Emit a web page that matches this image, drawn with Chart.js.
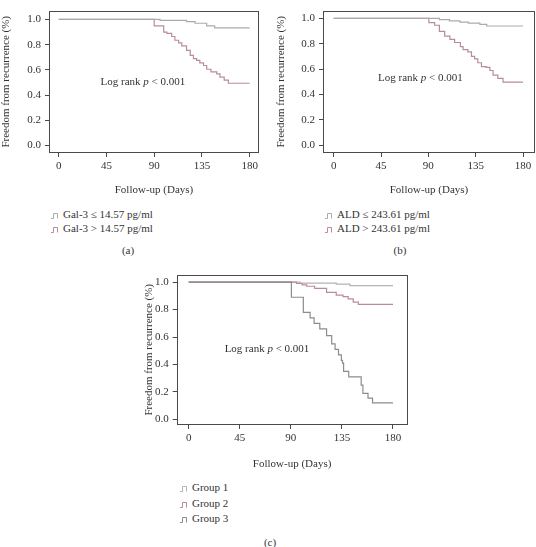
<!DOCTYPE html>
<html>
<head>
<meta charset="utf-8">
<script src="https://cdn.jsdelivr.net/npm/chart.js@4.4.1/dist/chart.umd.min.js"></script>
<style>
  body { margin: 0; background: #fff; width: 536px; height: 547px; position: relative; overflow: hidden;
         font-family: "Liberation Serif", "DejaVu Serif", serif; color: #333; }
  canvas { position: absolute; }
  .legend { position: absolute; font-size: 11px; white-space: nowrap; }
  .legend div { height: 14px; line-height: 14px; }
  .legend svg { vertical-align: -1px; margin-right: 5px; }
  .cap { position: absolute; font-size: 11px; transform: translate(-50%, -50%); }
</style>
</head>
<body>
<canvas id="chartA" width="268" height="200" style="left:0;top:0"></canvas>
<canvas id="chartB" width="261" height="200" style="left:275px;top:0"></canvas>
<canvas id="chartC" width="268" height="208" style="left:143px;top:264px"></canvas>

<div class="legend" id="legA" style="left:51px;top:207px"></div>
<div class="legend" id="legB" style="left:325px;top:207px"></div>
<div class="legend" id="legC" style="left:180px;top:480px"></div>
<div class="cap" style="left:128px;top:250px">(a)</div>
<div class="cap" style="left:400px;top:250px">(b)</div>
<div class="cap" style="left:270px;top:542px">(c)</div>

<script>
"use strict";

// axis ticks
var dayTicks = [0, 45, 90, 135, 180];
var survTicks = [0, 0.2, 0.4, 0.6, 0.8, 1.0];

// (a) Gal-3
var galLowDays = [0, 95.5, 120.5, 128.5, 139.5, 147, 180];
var galLowSurv = [1, 0.993, 0.983, 0.97, 0.95, 0.933, 0.933];
var galHighDays = [0, 90, 99, 102, 106.5, 109.5, 113, 116, 120.5, 124, 127, 130, 133, 136.5, 139.5, 143.5, 149, 152, 156, 160, 180];
var galHighSurv = [1, 0.95, 0.90, 0.89, 0.865, 0.835, 0.815, 0.79, 0.755, 0.715, 0.69, 0.675, 0.655, 0.635, 0.605, 0.585, 0.568, 0.543, 0.519, 0.494, 0.494];

// (b) ALD
var aldLowDays = [0, 100.5, 110, 120, 128, 139, 145.5, 180];
var aldLowSurv = [1, 0.99, 0.98, 0.97, 0.962, 0.952, 0.94, 0.94];
var aldHighDays = [0, 90.5, 96, 100.5, 105.5, 110.5, 115, 120.5, 123, 127.5, 131, 134, 137, 140.5, 145, 148.5, 151.5, 156, 161, 180];
var aldHighSurv = [1, 0.966, 0.946, 0.897, 0.86, 0.835, 0.81, 0.778, 0.754, 0.736, 0.70, 0.68, 0.65, 0.62, 0.613, 0.589, 0.552, 0.527, 0.498, 0.498];

// (c) groups
var group1Days = [0, 98, 130, 142, 180];
var group1Surv = [1, 0.993, 0.985, 0.975, 0.975];
var group2Days = [0, 95, 100, 104, 111, 121.5, 130, 136, 140.5, 145, 149.5, 180];
var group2Surv = [1, 0.99, 0.98, 0.97, 0.955, 0.925, 0.905, 0.895, 0.878, 0.855, 0.838, 0.838];
var group3Days = [0, 90.5, 101, 107, 110.5, 115.5, 121.5, 126, 129, 132, 134.5, 135.5, 136.5, 141, 152, 153.5, 158, 162, 180];
var group3Surv = [1, 0.89, 0.78, 0.74, 0.70, 0.66, 0.61, 0.55, 0.51, 0.47, 0.43, 0.41, 0.35, 0.31, 0.25, 0.19, 0.155, 0.12, 0.12];

var labelsA = ['Gal-3 \u2264 14.57 pg/ml', 'Gal-3 > 14.57 pg/ml'];
var labelsB = ['ALD \u2264 243.61 pg/ml', 'ALD > 243.61 pg/ml'];
var labelsC = ['Group 1', 'Group 2', 'Group 3'];

var frameColor = '#4a4a4a';
var textColor = '#333';
var lightGray = '#ababab';
var mauve = '#b98c9c';
var darkGray = '#8c8c8c';
var fontFamily = '"Liberation Serif", "DejaVu Serif", serif';

var toPoints = function (days, surv) {
    return days.map(function (d, i) { return { x: d, y: surv[i] }; });
};

var frame = {
    id: 'frame',
    afterDatasetsDraw: function (chart) {
        var a = chart.chartArea, ctx = chart.ctx;
        ctx.save();
        ctx.strokeStyle = frameColor;
        ctx.lineWidth = 1;
        ctx.strokeRect(Math.round(a.left) + 0.5, Math.round(a.top) + 0.5,
            Math.round(a.right - a.left) - 1, Math.round(a.bottom - a.top) - 1);
        ctx.restore();
    }
};

var logRank = {
    id: 'logRank',
    afterDatasetsDraw: function (chart, args, opts) {
        var ctx = chart.ctx;
        var cx = chart.scales.x.getPixelForValue(opts.day);
        var cy = chart.scales.y.getPixelForValue(opts.surv);
        var parts = [['Log rank ', ''], ['p', 'italic '], [' < 0.001', '']];
        ctx.save();
        ctx.fillStyle = textColor;
        ctx.textBaseline = 'middle';
        var total = 0;
        parts.forEach(function (p) { ctx.font = p[1] + '11px ' + fontFamily; total += ctx.measureText(p[0]).width; });
        var x = cx - total / 2;
        parts.forEach(function (p) {
            ctx.font = p[1] + '11px ' + fontFamily;
            ctx.fillText(p[0], x, cy);
            x += ctx.measureText(p[0]).width;
        });
        ctx.restore();
    }
};

var kmChart = function (id, datasets, g) {
    var font = { family: fontFamily, size: 11 };
    return new Chart(document.getElementById(id), {
        type: 'line',
        data: { datasets: datasets },
        options: {
            responsive: false,
            devicePixelRatio: 1,
            animation: false,
            layout: { padding: g.padding },
            elements: { point: { radius: 0 }, line: { borderWidth: 1.2, stepped: true } },
            plugins: { legend: { display: false }, tooltip: { enabled: false }, logRank: g.note },
            scales: {
                x: {
                    type: 'linear', min: g.xMin, max: g.xMax,
                    afterBuildTicks: function (s) { s.ticks = dayTicks.map(function (v) { return { value: v }; }); },
                    afterFit: function (s) { s.height = g.xHeight; },
                    grid: { drawOnChartArea: false, tickLength: 4, color: frameColor },
                    border: { display: false },
                    ticks: { padding: 3, color: textColor, font: font, maxRotation: 0, autoSkip: false },
                    title: { display: true, text: 'Follow-up (Days)', color: textColor, font: font, padding: { top: 0, bottom: g.xTitlePad } }
                },
                y: {
                    type: 'linear', min: g.yMin, max: g.yMax,
                    afterBuildTicks: function (s) { s.ticks = survTicks.map(function (v) { return { value: v }; }); },
                    afterFit: function (s) { s.width = g.yWidth; },
                    grid: { drawOnChartArea: false, tickLength: 4, color: frameColor },
                    border: { display: false },
                    ticks: { padding: 4, color: textColor, font: font, callback: function (v) { return v.toFixed(1); } },
                    title: { display: true, text: 'Freedom from recurrence (%)', color: textColor, font: font, padding: 0 }
                }
            }
        },
        plugins: [frame, logRank]
    });
};

var line = function (days, surv, color, order) {
    return { data: toPoints(days, surv), borderColor: color, order: order, fill: false };
};

var legend = function (id, labels, colors) {
    var el = document.getElementById(id);
    labels.forEach(function (t, i) {
        var row = document.createElement('div');
        row.innerHTML = '<svg width="7" height="7"><path d="M0 6.5H2.5V1.5H6.5V6.5" fill="none" stroke="' +
            colors[i] + '" stroke-width="1"/></svg>';
        row.appendChild(document.createTextNode(t));
        el.appendChild(row);
    });
};

kmChart('chartA', [line(galLowDays, galLowSurv, lightGray, 0), line(galHighDays, galHighSurv, mauve, 1)], {
    padding: { left: 0, right: 9, top: 1, bottom: 0 },
    xMin: -9.14, xMax: 188.8, yMin: -0.0593, yMax: 1.0704,
    xHeight: 47, yWidth: 49, xTitlePad: 3.4,
    note: { day: 79.4, surv: 0.5 }
});

kmChart('chartB', [line(aldLowDays, aldLowSurv, lightGray, 0), line(aldHighDays, aldHighSurv, mauve, 1)], {
    padding: { left: 0, right: 1, top: 1, bottom: 0 },
    xMin: -10.17, xMax: 191.4, yMin: -0.0613, yMax: 1.0613,
    xHeight: 47, yWidth: 48, xTitlePad: 3.4,
    note: { day: 82.5, surv: 0.532 }
});

kmChart('chartC', [line(group1Days, group1Surv, '#b4b4b4', 2), line(group2Days, group2Surv, mauve, 1), line(group3Days, group3Surv, darkGray, 0)], {
    padding: { left: 0, right: 3.5, top: 2, bottom: 0 },
    xMin: -10.57, xMax: 192.8, yMin: -0.041, yMax: 1.055,
    xHeight: 47, yWidth: 33.7, xTitlePad: 1.4,
    note: { day: 69, surv: 0.51 }
});

legend('legA', labelsA, [lightGray, mauve]);
legend('legB', labelsB, [lightGray, mauve]);
legend('legC', labelsC, ['#b4b4b4', mauve, darkGray]);
document.querySelector('#legC').querySelectorAll('div').forEach(function (d) { d.style.height = '15.5px'; d.style.lineHeight = '15.5px'; });
</script>
</body>
</html>
